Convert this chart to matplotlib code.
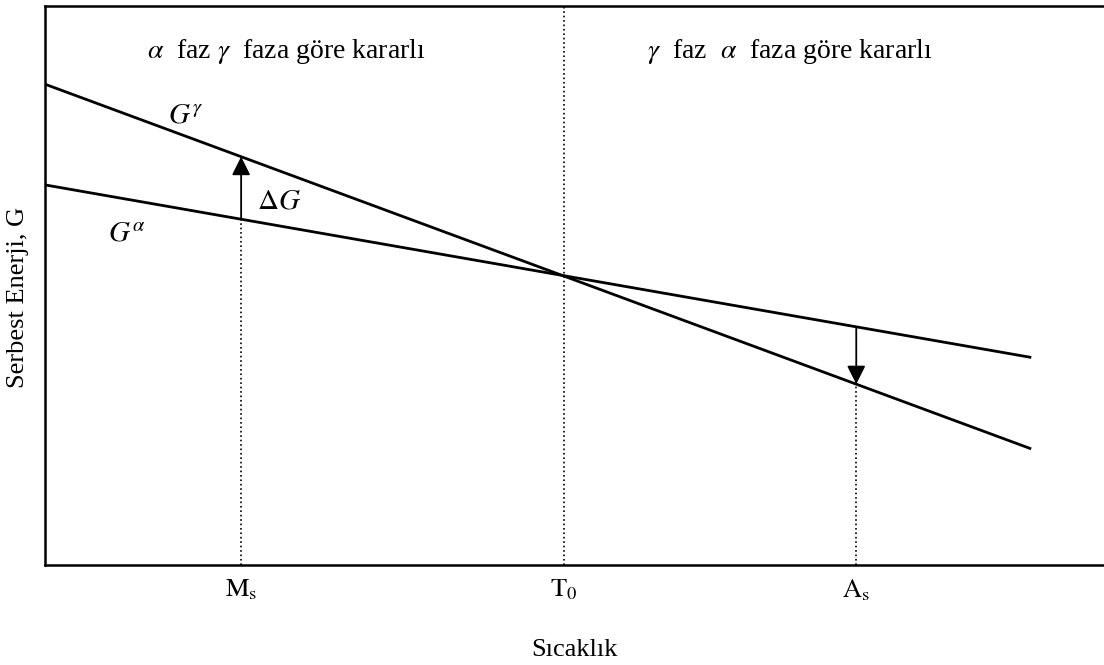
import matplotlib.pyplot as plt
import numpy as np

plt.rcParams["font.family"] = ["Liberation Serif", "DejaVu Serif"]
plt.rcParams["mathtext.fontset"] = "stix"

# Free energy of the two phases versus temperature (arbitrary units)
temp = [0, 93]
g_gamma = [86.0, 20.9]
g_alpha = [68.0, 37.2]

# Characteristic temperatures
ms_temp = 18.5
t0_temp = 49.0
as_temp = 76.6
temp_names = [r"$\mathrm{M_s}$", r"$\mathrm{T_0}$", r"$\mathrm{A_s}$"]

fig = plt.figure(figsize=(11.04, 6.65), dpi=100)
ax = fig.add_axes([0.041, 0.150, 0.959, 0.841])

ax.plot(temp, g_gamma, color="black", lw=2.0)
ax.plot(temp, g_alpha, color="black", lw=2.0)

ga_ms = np.interp(ms_temp, temp, g_alpha)
gg_ms = np.interp(ms_temp, temp, g_gamma)
ga_as = np.interp(as_temp, temp, g_alpha)
gg_as = np.interp(as_temp, temp, g_gamma)

# Dotted guides down to the temperature axis
ax.plot([ms_temp, ms_temp], [0, ga_ms], color="black", ls=":", lw=1.2)
ax.plot([t0_temp, t0_temp], [0, 100], color="black", ls=":", lw=1.2)
ax.plot([as_temp, as_temp], [0, gg_as], color="black", ls=":", lw=1.2)

# Driving force arrows
arrow = dict(arrowstyle="-|>", color="black", lw=1.3, mutation_scale=28,
             shrinkA=0, shrinkB=0)
ax.annotate("", xy=(ms_temp, gg_ms), xytext=(ms_temp, ga_ms), arrowprops=arrow)
ax.annotate("", xy=(as_temp, gg_as), xytext=(as_temp, ga_as), arrowprops=arrow)

ax.text(11.6, 80.3, r"$G^{\gamma}$", fontsize=21, va="center")
ax.text(5.9, 59.2, r"$G^{\alpha}$", fontsize=21, va="center")
ax.text(20.0, 65.1, r"$\Delta G$", fontsize=21, va="center")

ax.text(9.6, 91.8, r"$\alpha$  faz $\gamma$  faza göre kararlı",
        fontsize=20, va="center")
ax.text(56.8, 91.8, r"$\gamma$  faz  $\alpha$  faza göre kararlı",
        fontsize=20, va="center")

ax.set_xlim(0, 100)
ax.set_ylim(0, 100)
ax.set_yticks([])
ax.set_xticks([ms_temp, t0_temp, as_temp])
ax.set_xticklabels(temp_names, fontsize=19)
ax.tick_params(axis="x", length=0, pad=9)

ax.set_xlabel("Sıcaklık", fontsize=19, labelpad=26)
ax.set_ylabel("Serbest Enerji, G", fontsize=19)
ax.yaxis.set_label_coords(-0.015, 0.479)

for side in ax.spines.values():
    side.set_linewidth(1.8)
ax.spines["right"].set_visible(False)

fig.savefig("out.png", dpi=100)
